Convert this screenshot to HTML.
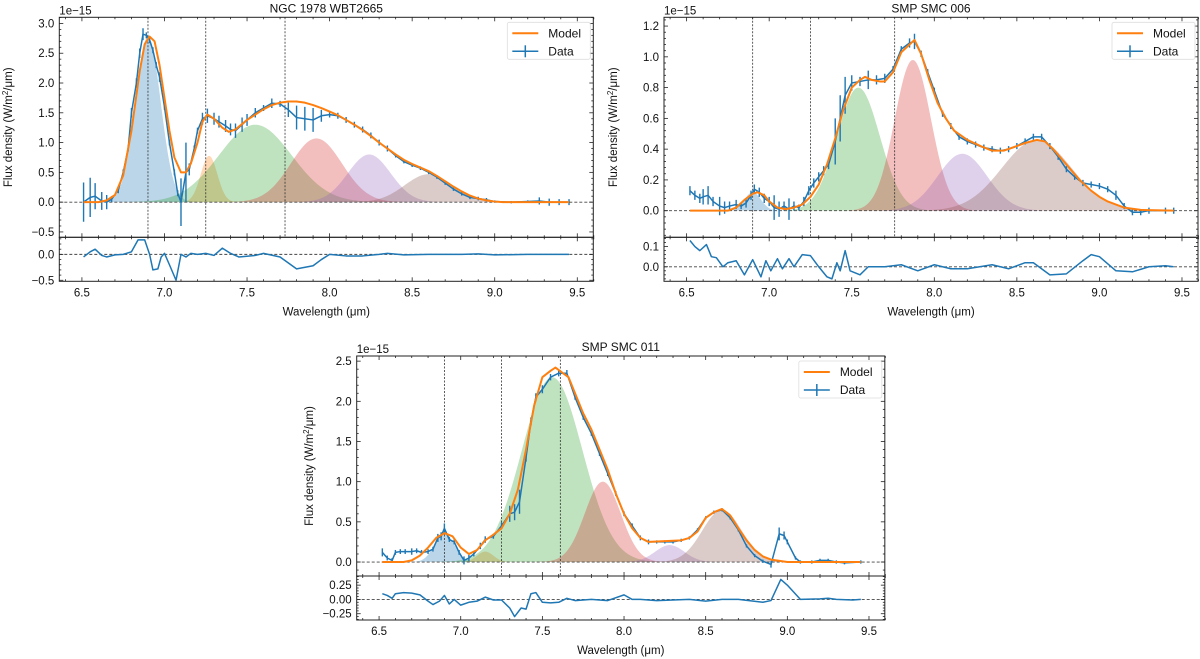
<!DOCTYPE html>
<html><head><meta charset="utf-8"><style>
body{margin:0;background:#fff}
svg{display:block;font-family:"Liberation Sans","DejaVu Sans",sans-serif}
</style></head><body>
<svg id="fig" width="1200" height="659" viewBox="0 0 1200 659" xmlns="http://www.w3.org/2000/svg"></svg>
<script>
// ---------- Panel 1: NGC 1978 WBT2665 ----------
const p1Wave=[6.51,6.55,6.58,6.62,6.65,6.68,6.72,6.75,6.78,6.8,6.83,6.85,6.87,6.89,6.91,6.93,6.95,6.97,7.0,7.03,7.06,7.08,7.1,7.13,7.15,7.18,7.2,7.23,7.26,7.3,7.33,7.37,7.4,7.43,7.47,7.5,7.55,7.6,7.65,7.7,7.75,7.8,7.85,7.9,7.95,8.0,8.05,8.1,8.15,8.2,8.25,8.3,8.35,8.4,8.45,8.5,8.55,8.6,8.65,8.7,8.75,8.8,8.85,8.9,8.95,9.0,9.1,9.2,9.27,9.33,9.39,9.45];
const p1Flux=[0.0,0.08,0.1,0.02,0.0,0.05,0.2,0.5,0.9,1.5,2.0,2.5,2.82,2.8,2.72,2.55,2.3,2.1,1.6,1.0,0.5,0.15,0.0,0.5,0.55,0.9,1.2,1.4,1.45,1.4,1.35,1.28,1.22,1.2,1.3,1.38,1.5,1.58,1.66,1.65,1.55,1.42,1.4,1.38,1.45,1.47,1.45,1.38,1.3,1.22,1.12,1.0,0.9,0.78,0.68,0.62,0.57,0.5,0.42,0.32,0.22,0.14,0.08,0.06,0.04,0.01,0.0,0.01,0.02,0.0,0.0,0.0];
const p1Err=[0.33,0.33,0.22,0.15,0.12,0.05,0.05,0.05,0.05,0.08,0.08,0.08,0.1,0.05,0.05,0.05,0.05,0.08,0.05,0.05,0.05,0.05,0.4,0.5,0.1,0.05,0.05,0.1,0.12,0.1,0.1,0.1,0.1,0.12,0.12,0.1,0.08,0.05,0.08,0.05,0.12,0.2,0.2,0.2,0.1,0.05,0.05,0.05,0.05,0.05,0.05,0.05,0.05,0.03,0.03,0.03,0.03,0.03,0.03,0.03,0.03,0.03,0.03,0.03,0.03,0.02,0.02,0.02,0.06,0.06,0.05,0.05];
const p1ModelWave=[6.51,6.6,6.65,6.7,6.75,6.8,6.85,6.88,6.91,6.94,6.97,7.0,7.03,7.06,7.1,7.13,7.16,7.2,7.23,7.26,7.3,7.35,7.39,7.43,7.5,7.55,7.6,7.65,7.7,7.75,7.8,7.85,7.9,7.95,8.0,8.05,8.1,8.15,8.2,8.25,8.3,8.35,8.4,8.45,8.5,8.55,8.6,8.65,8.7,8.75,8.8,8.85,8.9,8.95,9.0,9.05,9.45];
const p1Model=[0,0,0.03,0.12,0.45,1.2,2.2,2.65,2.78,2.7,2.3,1.75,1.2,0.75,0.5,0.5,0.65,1.0,1.35,1.47,1.4,1.25,1.18,1.22,1.38,1.47,1.56,1.63,1.67,1.69,1.69,1.67,1.63,1.58,1.52,1.46,1.38,1.3,1.21,1.11,1.0,0.9,0.8,0.71,0.64,0.58,0.52,0.44,0.35,0.26,0.18,0.11,0.06,0.03,0.01,0,0];
const p1CompCenter=[6.9,7.27,7.55,7.92,8.24,8.6];
const p1CompAmp=[2.78,0.78,1.3,1.07,0.8,0.47];
const p1CompSigma=[0.077,0.05,0.22,0.155,0.13,0.145];
const p1Lines=[6.9,7.25,7.73];
const p1ResWave=[6.51,6.55,6.58,6.62,6.65,6.7,6.75,6.8,6.84,6.88,6.91,6.93,6.96,6.98,7.0,7.03,7.07,7.1,7.13,7.16,7.2,7.25,7.3,7.35,7.4,7.45,7.55,7.6,7.7,7.8,7.9,7.95,8.0,8.1,8.2,8.3,8.35,8.45,8.6,8.8,8.9,9.0,9.2,9.45];
const p1Res=[-0.05,0.05,0.1,-0.02,-0.05,-0.01,0.0,0.05,0.28,0.28,0.0,-0.3,-0.28,-0.05,0.02,-0.2,-0.5,0.0,-0.05,0.02,0.0,0.02,-0.02,0.12,0.02,-0.05,-0.02,0.02,-0.05,-0.28,-0.22,-0.1,0.0,-0.03,-0.03,0.0,0.02,-0.01,0.0,0.0,0.01,-0.01,0.0,0.0];
const p1YTicks=[-0.5,0.0,0.5,1.0,1.5,2.0,2.5,3.0];
const p1YTickLabels=["−0.5","0.0","0.5","1.0","1.5","2.0","2.5","3.0"];
const p1RTicks=[-0.5,0.0];
const p1RTickLabels=["−0.5","0.0"];

// ---------- Panel 2: SMP SMC 006 ----------
const p2Wave=[6.52,6.55,6.58,6.6,6.63,6.66,6.7,6.73,6.76,6.8,6.83,6.86,6.89,6.91,6.94,6.97,7.0,7.03,7.06,7.09,7.12,7.15,7.18,7.21,7.24,7.27,7.3,7.33,7.36,7.4,7.43,7.46,7.5,7.55,7.6,7.65,7.7,7.75,7.8,7.85,7.88,7.92,7.96,8.0,8.05,8.1,8.15,8.2,8.25,8.3,8.35,8.4,8.45,8.5,8.55,8.6,8.65,8.7,8.75,8.8,8.85,8.9,8.95,9.0,9.05,9.1,9.15,9.2,9.25,9.3,9.4,9.45];
const p2Flux=[0.13,0.1,0.08,0.09,0.1,0.06,0.03,0.02,0.03,0.04,0.03,0.05,0.1,0.14,0.12,0.08,0.06,0.02,0.01,0.03,0.01,0.03,0.02,0.06,0.13,0.18,0.22,0.26,0.3,0.45,0.6,0.75,0.83,0.84,0.85,0.85,0.86,0.92,1.05,1.09,1.1,1.02,0.9,0.78,0.63,0.55,0.48,0.45,0.43,0.41,0.4,0.39,0.4,0.42,0.45,0.48,0.48,0.42,0.35,0.27,0.22,0.18,0.17,0.16,0.14,0.1,0.03,-0.01,-0.01,0.0,0.0,0.0];
const p2Err=[0.03,0.03,0.03,0.05,0.06,0.03,0.06,0.04,0.03,0.03,0.02,0.03,0.03,0.03,0.03,0.03,0.03,0.08,0.05,0.03,0.07,0.03,0.02,0.03,0.03,0.03,0.03,0.03,0.03,0.15,0.15,0.12,0.05,0.03,0.06,0.03,0.03,0.02,0.02,0.03,0.05,0.02,0.02,0.02,0.02,0.02,0.02,0.02,0.02,0.02,0.02,0.02,0.02,0.02,0.02,0.02,0.02,0.02,0.02,0.02,0.02,0.02,0.02,0.02,0.02,0.03,0.02,0.02,0.02,0.02,0.02,0.02];
const p2ModelWave=[6.52,6.75,6.8,6.85,6.9,6.93,6.97,7.0,7.05,7.1,7.15,7.2,7.25,7.3,7.35,7.4,7.45,7.5,7.55,7.58,7.62,7.67,7.7,7.75,7.8,7.85,7.88,7.92,7.97,8.02,8.07,8.12,8.2,8.28,8.35,8.42,8.5,8.55,8.62,8.67,8.72,8.8,8.88,8.95,9.0,9.05,9.1,9.15,9.25,9.45];
const p2Model=[0,0,0.02,0.07,0.11,0.12,0.1,0.06,0.02,0.01,0.02,0.04,0.09,0.17,0.3,0.47,0.66,0.8,0.85,0.87,0.85,0.84,0.84,0.9,1.03,1.08,1.11,1.02,0.85,0.7,0.6,0.52,0.46,0.42,0.39,0.39,0.42,0.44,0.46,0.45,0.4,0.3,0.2,0.13,0.09,0.06,0.04,0.02,0.005,0];
const p2CompCenter=[6.9,7.54,7.87,8.17,8.62];
const p2CompAmp=[0.12,0.8,0.98,0.37,0.46];
const p2CompSigma=[0.05,0.13,0.11,0.15,0.21];
const p2CompColorIdx=[0,2,3,4,5];
const p2Lines=[6.9,7.25,7.76];
const p2ResWave=[6.52,6.55,6.58,6.62,6.65,6.68,6.72,6.75,6.8,6.85,6.9,6.95,6.98,7.01,7.05,7.08,7.12,7.15,7.2,7.25,7.3,7.35,7.38,7.41,7.43,7.46,7.49,7.55,7.6,7.7,7.8,7.9,8.0,8.1,8.2,8.35,8.45,8.55,8.6,8.7,8.8,8.9,8.95,9.0,9.1,9.2,9.3,9.4,9.45];
const p2Res=[0.13,0.1,0.08,0.11,0.05,0.045,0.0,0.02,0.03,-0.04,0.035,-0.05,0.03,-0.02,0.04,-0.01,0.04,0.0,0.06,0.055,0.0,-0.05,-0.06,0.02,-0.02,0.08,-0.02,-0.04,0.0,0.0,0.01,-0.02,0.01,-0.01,-0.01,0.01,-0.01,0.02,0.02,-0.04,-0.035,0.03,0.06,0.05,-0.02,-0.025,0.0,0.005,0.0];
const p2YTicks=[0.0,0.2,0.4,0.6,0.8,1.0,1.2];
const p2YTickLabels=["0.0","0.2","0.4","0.6","0.8","1.0","1.2"];
const p2RTicks=[0.0,0.1];
const p2RTickLabels=["0.0","0.1"];

// ---------- Panel 3: SMP SMC 011 ----------
const p3Wave=[6.52,6.55,6.58,6.6,6.63,6.66,6.7,6.73,6.76,6.8,6.83,6.86,6.88,6.9,6.93,6.96,6.99,7.02,7.05,7.08,7.12,7.15,7.2,7.25,7.3,7.33,7.36,7.4,7.43,7.46,7.5,7.55,7.6,7.65,7.7,7.75,7.8,7.85,7.9,7.95,8.0,8.05,8.1,8.15,8.2,8.25,8.3,8.35,8.4,8.45,8.5,8.55,8.6,8.65,8.7,8.75,8.8,8.85,8.9,8.95,8.98,9.0,9.05,9.08,9.15,9.2,9.25,9.3,9.35,9.45];
const p3Flux=[0.12,0.05,0.02,0.12,0.13,0.13,0.13,0.14,0.12,0.13,0.16,0.3,0.32,0.42,0.28,0.25,0.12,0.02,0.05,0.1,0.2,0.28,0.32,0.45,0.6,0.62,0.75,1.3,1.75,2.05,2.15,2.3,2.35,2.35,2.05,1.8,1.6,1.35,1.1,0.85,0.6,0.45,0.3,0.25,0.25,0.25,0.25,0.27,0.3,0.4,0.55,0.62,0.65,0.55,0.4,0.2,0.08,0.01,-0.03,0.35,0.33,0.25,0.05,0.0,0.0,0.02,0.02,0.0,-0.01,0.0];
const p3Err=[0.05,0.03,0.03,0.03,0.03,0.03,0.04,0.03,0.03,0.03,0.03,0.05,0.05,0.06,0.03,0.03,0.03,0.05,0.04,0.03,0.04,0.04,0.03,0.04,0.1,0.1,0.15,0.05,0.05,0.05,0.05,0.04,0.04,0.04,0.03,0.03,0.03,0.03,0.03,0.03,0.03,0.03,0.03,0.03,0.02,0.02,0.02,0.02,0.02,0.02,0.02,0.02,0.02,0.02,0.02,0.02,0.02,0.02,0.04,0.08,0.05,0.03,0.02,0.02,0.02,0.02,0.02,0.02,0.02,0.02];
const p3ModelWave=[6.52,6.65,6.7,6.75,6.8,6.85,6.9,6.95,7.0,7.05,7.1,7.15,7.2,7.25,7.3,7.35,7.4,7.45,7.5,7.55,7.58,7.62,7.66,7.7,7.75,7.8,7.85,7.9,7.95,8.0,8.05,8.1,8.15,8.25,8.35,8.4,8.45,8.5,8.55,8.6,8.65,8.7,8.75,8.8,8.85,8.9,9.0,9.45];
const p3Model=[0,0,0.02,0.08,0.18,0.3,0.36,0.32,0.18,0.1,0.15,0.27,0.34,0.42,0.6,0.9,1.4,1.95,2.3,2.38,2.42,2.36,2.3,2.1,1.85,1.65,1.4,1.15,0.85,0.6,0.42,0.3,0.25,0.26,0.27,0.3,0.38,0.55,0.62,0.66,0.58,0.42,0.27,0.15,0.07,0.03,0,0];
const p3CompCenter=[6.9,7.15,7.56,7.87,8.28,8.6];
const p3CompAmp=[0.36,0.13,2.3,1.0,0.21,0.65];
const p3CompSigma=[0.06,0.05,0.185,0.11,0.09,0.12];
const p3Lines=[6.9,7.25,7.61];
const p3ResWave=[6.52,6.55,6.58,6.6,6.65,6.7,6.75,6.8,6.83,6.87,6.9,6.93,6.96,7.0,7.05,7.1,7.15,7.2,7.25,7.3,7.33,7.37,7.4,7.43,7.46,7.5,7.55,7.6,7.65,7.7,7.8,7.9,8.0,8.05,8.1,8.2,8.3,8.4,8.5,8.6,8.7,8.85,8.9,8.96,9.0,9.08,9.2,9.25,9.3,9.4,9.45];
const p3Res=[0.1,0.07,0.02,0.1,0.12,0.11,0.08,-0.03,-0.09,-0.03,0.07,-0.08,0.0,-0.1,-0.05,-0.03,0.04,-0.01,-0.01,-0.15,-0.3,-0.15,-0.17,0.1,0.12,-0.05,-0.06,-0.05,0.02,-0.02,0.0,-0.02,0.08,0.0,0.0,-0.02,-0.01,0.0,-0.03,0.0,0.0,-0.05,-0.02,0.35,0.25,0.0,0.01,0.02,0.0,-0.01,0.0];
const p3YTicks=[0.0,0.5,1.0,1.5,2.0,2.5];
const p3YTickLabels=["0.0","0.5","1.0","1.5","2.0","2.5"];
const p3RTicks=[-0.25,0.0,0.25];
const p3RTickLabels=["−0.25","0.00","0.25"];

const xTicks=[6.5,7.0,7.5,8.0,8.5,9.0,9.5];
const xTickLabels=["6.5","7.0","7.5","8.0","8.5","9.0","9.5"];
const compColors=["#1f77b4","#ff7f0e","#2ca02c","#d62728","#9467bd","#8c564b"];

const NS="http://www.w3.org/2000/svg";
const svg=document.getElementById('fig');
function mk(tag,attrs,parent){const e=document.createElementNS(NS,tag);for(const k in attrs)e.setAttribute(k,attrs[k]);(parent||svg).appendChild(e);return e;}
function gauss(x,c,a,s){return a*Math.exp(-(x-c)*(x-c)/(2*s*s));}

function panel(o){
  const g=mk('g',{});
  
  
  const L=o.left,R=o.left+534*o.wscale,T=o.top,M=o.top+220,B=o.top+264;
  const xMin=6.363,xMax=9.597;
  const X=v=>L+(v-xMin)/(xMax-xMin)*(R-L);
  const Y=v=>T+(o.yMax-v)/(o.yMax-o.yMin)*(M-T);
  const RY=v=>M+(o.rMax-v)/(o.rMax-o.rMin)*(B-M);
  const clipId='clip'+o.id;
  const cp=mk('clipPath',{id:clipId},g);mk('rect',{x:L,y:T,width:R-L,height:M-T},cp);
  const clipR='clipr'+o.id;
  const cpr=mk('clipPath',{id:clipR},g);mk('rect',{x:L,y:M,width:R-L,height:B-M},cpr);
  const cg=mk('g',{'clip-path':`url(#${clipId})`},g);
  const N=300;
  for(let i=0;i<o.cc.length;i++){
    let d=`M${X(6.51)},${Y(0)}`;
    for(let k=0;k<=N;k++){const x=6.51+k*(9.45-6.51)/N;d+=`L${X(x).toFixed(2)},${Y(gauss(x,o.cc[i],o.ca[i],o.cs[i])).toFixed(2)}`;}
    d+=`L${X(9.45)},${Y(0)}Z`;
    const p=mk('path',{d:d,fill:compColors[o.ci?o.ci[i]:i],'fill-opacity':0.3,stroke:'none'},cg);
    
    
  }
  o.lines.forEach(v=>{const l=mk('line',{x1:X(v),x2:X(v),y1:T,y2:M,stroke:'#333','stroke-width':0.8,'stroke-dasharray':'2,1.5'},g);
    });
  mk('line',{x1:L,x2:R,y1:Y(0),y2:Y(0),stroke:'#444','stroke-width':0.9,'stroke-dasharray':'3,2'},g);
  mk('line',{x1:L,x2:R,y1:RY(0),y2:RY(0),stroke:'#444','stroke-width':0.9,'stroke-dasharray':'3,2'},g);
  const dg=mk('g',{'clip-path':`url(#${clipId})`},g);
  let dd='';
  for(let i=0;i<o.w.length;i++){
    mk('line',{x1:X(o.w[i]),x2:X(o.w[i]),y1:Y(o.f[i]-o.e[i]),y2:Y(o.f[i]+o.e[i]),stroke:'#1f77b4','stroke-width':1.4},dg);
    dd+=(i?'L':'M')+X(o.w[i]).toFixed(2)+','+Y(o.f[i]).toFixed(2);
  }
  const dl=mk('path',{d:dd,fill:'none',stroke:'#1f77b4','stroke-width':1.5,'stroke-linejoin':'round'},dg);
  
  let md='';
  for(let i=0;i<o.mw.length;i++)md+=(i?'L':'M')+X(o.mw[i]).toFixed(2)+','+Y(o.mv[i]).toFixed(2);
  const ml=mk('path',{d:md,fill:'none',stroke:'#ff7f0e','stroke-width':2,'stroke-linejoin':'round'},dg);
  
  const rg=mk('g',{'clip-path':`url(#${clipR})`},g);
  let rd='';
  for(let i=0;i<o.rw.length;i++)rd+=(i?'L':'M')+X(o.rw[i]).toFixed(2)+','+RY(o.r[i]).toFixed(2);
  const rl=mk('path',{d:rd,fill:'none',stroke:'#1f77b4','stroke-width':1.5,'stroke-linejoin':'round'},rg);
  
  mk('rect',{x:L,y:T,width:R-L,height:M-T,fill:'none',stroke:'#222','stroke-width':1},g);
  mk('rect',{x:L,y:M,width:R-L,height:B-M,fill:'none',stroke:'#222','stroke-width':1},g);
  const tk=mk('g',{stroke:'#222','stroke-width':0.8},g);
  for(let v=6.4;v<=9.6;v+=0.1){const vv=Math.round(v*10)/10;const major=Math.abs(vv*2-Math.round(vv*2))<1e-6;const len=major?4:2;const x=X(vv);
    [[T,1],[M,-1],[M,1],[B,-1]].forEach(([y,s])=>mk('line',{x1:x,x2:x,y1:y,y2:y+s*len},tk));}
  xTicks.forEach((v,i)=>{const t=mk('text',{x:X(v),y:B+15,'font-size':11.5,'text-anchor':'middle',fill:'#111'},g);t.textContent=xTickLabels[i];
    });
  for(let v=Math.ceil(o.yMin/o.ym)*o.ym;v<=o.yMax+1e-9;v+=o.ym){const vv=Math.round(v/o.ym)*o.ym;const y=Y(vv);
    const major=o.yt.some(t=>Math.abs(t-vv)<1e-6);const len=major?4:2;
    mk('line',{x1:L,x2:L+len,y1:y,y2:y},tk);mk('line',{x1:R,x2:R-len,y1:y,y2:y},tk);}
  o.yt.forEach((v,i)=>{const t=mk('text',{x:L-5,y:Y(v)+4,'font-size':11.5,'text-anchor':'end',fill:'#111'},g);t.textContent=o.ytl[i];
    });
  for(let v=Math.ceil(o.rMin/o.rm)*o.rm;v<=o.rMax+1e-9;v+=o.rm){const vv=Math.round(v/o.rm)*o.rm;const y=RY(vv);
    const major=o.rt.some(t=>Math.abs(t-vv)<1e-6);const len=major?4:2;
    mk('line',{x1:L,x2:L+len,y1:y,y2:y},tk);mk('line',{x1:R,x2:R-len,y1:y,y2:y},tk);}
  o.rt.forEach((v,i)=>{const t=mk('text',{x:L-5,y:RY(v)+4,'font-size':11.5,'text-anchor':'end',fill:'#111'},g);t.textContent=o.rtl[i];
    });
  const ti=mk('text',{x:(L+R)/2,y:T-5,'font-size':12,'text-anchor':'middle',fill:'#111'},g);ti.textContent=o.title;
  
  const ex=mk('text',{x:L,y:T-3,'font-size':11.5,fill:'#111'},g);ex.textContent='1e−15';
  
  const xl=mk('text',{x:(L+R)/2,y:B+34,'font-size':11.5,'text-anchor':'middle',fill:'#111'},g);xl.textContent='Wavelength (μm)';
  
  const yc=(T+M)/2;
  const yl=mk('text',{x:o.ylx,y:yc,'font-size':11.5,'text-anchor':'middle',fill:'#111',transform:`rotate(-90 ${o.ylx} ${yc})`},g);
  yl.innerHTML='Flux density (W/m<tspan dy="-4" font-size="8">2</tspan><tspan dy="4">/μm)</tspan>';
  
  const lg=mk('g',{},g);
  
  const lx=R-86,ly=T+5;
  mk('rect',{x:lx,y:ly,width:83,height:37,rx:2,fill:'#fff','fill-opacity':0.85,stroke:'#ddd','stroke-width':0.8},lg);
  mk('line',{x1:lx+5,x2:lx+31,y1:ly+11,y2:ly+11,stroke:'#ff7f0e','stroke-width':2},lg);
  mk('line',{x1:lx+5,x2:lx+31,y1:ly+29,y2:ly+29,stroke:'#1f77b4','stroke-width':1.5},lg);
  mk('line',{x1:lx+18,x2:lx+18,y1:ly+23,y2:ly+35,stroke:'#1f77b4','stroke-width':1.5},lg);
  const t1=mk('text',{x:lx+41,y:ly+15,'font-size':12,fill:'#111'},lg);t1.textContent='Model';
  
  const t2=mk('text',{x:lx+41,y:ly+33,'font-size':12,fill:'#111'},lg);t2.textContent='Data';
  
}

panel({id:1,name:'panel-ngc1978',title:'NGC 1978 WBT2665',left:59.3,wscale:1,top:17.3,yMin:-0.59,yMax:3.103,ym:0.1,rMin:-0.52,rMax:0.33,rm:0.1,ylx:12,
  w:p1Wave,f:p1Flux,e:p1Err,mw:p1ModelWave,mv:p1Model,cc:p1CompCenter,ca:p1CompAmp,cs:p1CompSigma,lines:p1Lines,rw:p1ResWave,r:p1Res,yt:p1YTicks,ytl:p1YTickLabels,rt:p1RTicks,rtl:p1RTickLabels});
panel({id:2,name:'panel-smc006',title:'SMP SMC 006',left:664,wscale:1,top:17.3,yMin:-0.173,yMax:1.257,ym:0.04,rMin:-0.072,rMax:0.146,rm:0.02,ylx:617,
  w:p2Wave,f:p2Flux,e:p2Err,mw:p2ModelWave,mv:p2Model,cc:p2CompCenter,ca:p2CompAmp,cs:p2CompSigma,ci:p2CompColorIdx,lines:p2Lines,rw:p2ResWave,r:p2Res,yt:p2YTicks,ytl:p2YTickLabels,rt:p2RTicks,rtl:p2RTickLabels});
panel({id:3,name:'panel-smc011',title:'SMP SMC 011',left:356.7,wscale:0.989,top:356,yMin:-0.174,yMax:2.564,ym:0.1,rMin:-0.36,rMax:0.41,rm:0.05,ylx:313,
  w:p3Wave,f:p3Flux,e:p3Err,mw:p3ModelWave,mv:p3Model,cc:p3CompCenter,ca:p3CompAmp,cs:p3CompSigma,lines:p3Lines,rw:p3ResWave,r:p3Res,yt:p3YTicks,ytl:p3YTickLabels,rt:p3RTicks,rtl:p3RTickLabels});
</script>
</body></html>
